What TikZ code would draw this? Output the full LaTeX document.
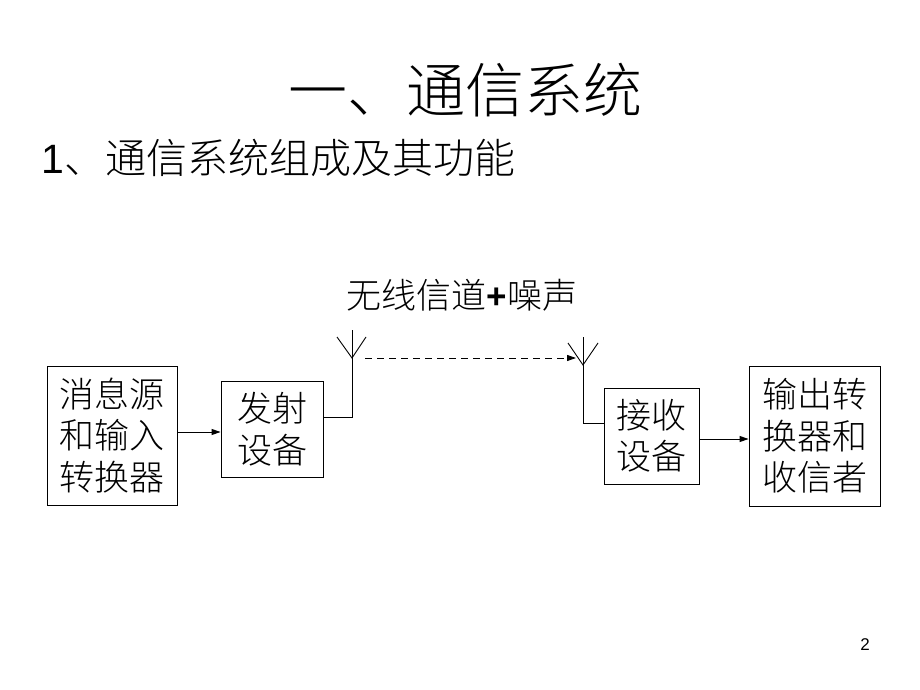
\documentclass[tikz,border=0pt]{standalone}
\usepackage{fontspec}
\setmainfont{Liberation Sans}
\newfontfamily\cjk{Noto Sans CJK SC Light}
\usetikzlibrary{arrows.meta}
\begin{document}
\begin{tikzpicture}[x=1pt,y=-1pt,
  line width=0.9pt,
  blk/.style={draw,inner sep=0pt,align=center,font=\cjk\fontsize{35}{41.5}\selectfont},
  arr/.style={-{Triangle[length=9pt,width=6pt]}},
  lnk/.style={line width=0.9pt}]
\useasboundingbox (0,0) rectangle (920,690);
\node (title) at (465,90) {\cjk\fontsize{59}{70}\selectfont 一、通信系统};
\node[anchor=west] (sub) at (38,158) {\fontsize{41}{50}\selectfont 1{\cjk 、通信系统组成及其功能}};
\node (chan) at (462,295) {\fontsize{35}{42}\selectfont{\cjk 无线信道}\textbf{+}{\cjk 噪声}};
\node[blk,minimum width=130pt,minimum height=139pt] (b1) at (112,435.5) {消息源\\和输入\\转换器};
\node[blk,minimum width=102pt,minimum height=96pt] (b2) at (272,429) {发射\\设备};
\node[blk,minimum width=95pt,minimum height=96pt] (b3) at (651.5,436) {接收\\设备};
\node[blk,minimum width=131pt,minimum height=140pt] (b4) at (814.5,436) {输出转\\换器和\\收信者};
\node (pg) at (865,645) {\fontsize{17}{20}\selectfont 2};
% transmit antenna
\coordinate (tlow) at (352,417);
\coordinate (tj) at (352,358);
\coordinate (ttop) at (352,330);
\coordinate (tl) at (337,337);
\coordinate (tr) at (366,337);
% receive antenna
\coordinate (rlow) at (583,423);
\coordinate (rj) at (583,365);
\coordinate (rtop) at (583,337);
\coordinate (rl) at (568,343);
\coordinate (rr) at (598,343);
% dashed link
\coordinate (ds) at (365,358);
\coordinate (de) at (576,358);
\draw[arr] (b1.east |- 0,432) -- (b2.west |- 0,432);
\draw[lnk] (b2.east |- tlow) -- (tlow) -- (ttop);
\draw[lnk] (tl) -- (tj) -- (tr);
\draw[lnk] (b3.west |- rlow) -- (rlow) -- (rtop);
\draw[lnk] (rl) -- (rj) -- (rr);
\draw[arr,dashed,dash pattern=on 7pt off 5pt] (ds) -- (de);
\draw[arr] (b3.east |- 0,439) -- (b4.west |- 0,439);
\end{tikzpicture}
\end{document}
